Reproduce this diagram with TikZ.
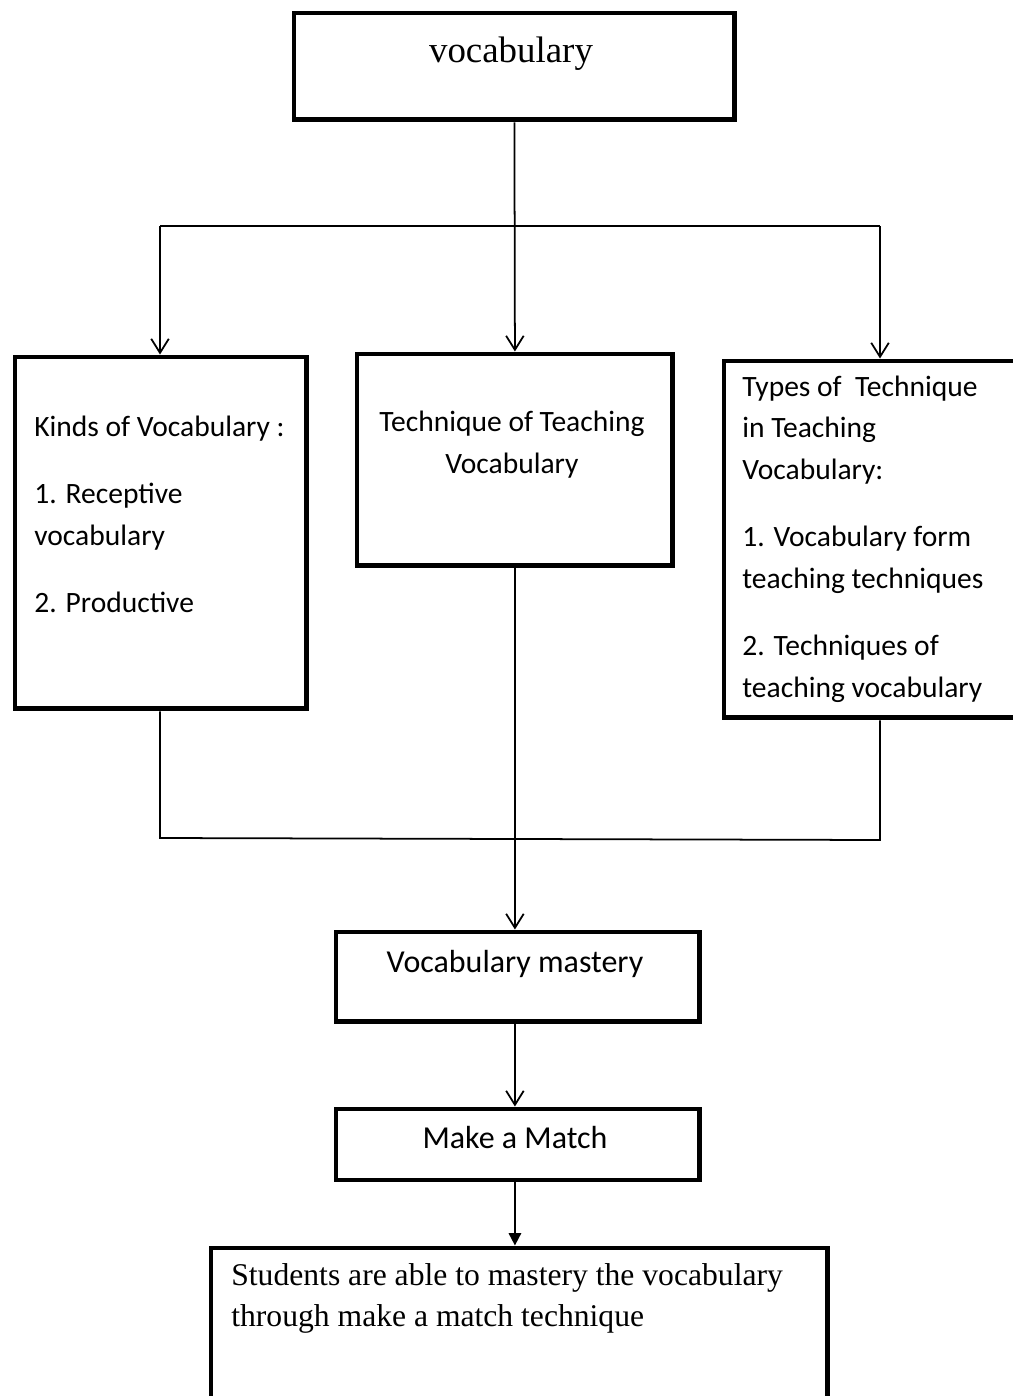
\documentclass[tikz,border=0pt]{standalone}
\usepackage{fontspec}
\setmainfont{Liberation Serif}
\newfontfamily\calibri{Carlito}
\usetikzlibrary{shapes,arrows.meta}
\tikzstyle{block} = [rectangle, draw, line width=2.8pt, inner sep=0pt, anchor=north west]
\tikzstyle{line} = [draw, line width=1pt]
\tikzstyle{arrow} = [line, -{Straight Barb[length=8pt,width=10pt]}]
\tikzstyle{body} = [inner sep=0pt, align=left, font=\calibri\fontsize{16.8}{23.8}\selectfont]

\begin{document}
\begin{tikzpicture}[x=0.02cm, y=-0.02cm]
\useasboundingbox (0,0) rectangle (1012,1396);
% boxes
\node [block, minimum width=8.82cm, minimum height=2.14cm] (vocab) at (291.5,10.5) {};
\node [block, minimum width=5.84cm, minimum height=7.04cm] (kinds) at (12.5,354.5) {};
\node [block, minimum width=6.32cm, minimum height=4.24cm] (tech) at (354.5,351.5) {};
\node [block, minimum width=5.97cm, minimum height=7.14cm] (types) at (721.5,358.5) {};
\node [block, minimum width=7.28cm, minimum height=1.8cm] (mastery) at (333.5,929.5) {};
\node [block, minimum width=7.28cm, minimum height=1.42cm] (match) at (333.5,1106.5) {};
\node [block, minimum width=12.34cm, minimum height=3.09cm] (students) at (208.5,1245.5) {};
% texts (base = last line)
\node [inner sep=0pt, anchor=base, font=\fontsize{21}{25}\selectfont] (vocab-txt) at (511,62) {vocabulary};
\node [body, anchor=base west] (kinds-txt) at (34,612) {Kinds of Vocabulary :\\[0.5cm]
  1. Receptive\\ vocabulary\\[0.5cm] 2. Productive};
\node [body, align=center, anchor=base] (tech-txt) at (512,473) {Technique of Teaching\\ Vocabulary};
\node [body, anchor=base west] (types-txt) at (742,697) {Types of~ Technique\\ in Teaching\\ Vocabulary:\\[0.5cm]
  1. Vocabulary form\\ teaching techniques\\[0.5cm] 2. Techniques of\\ teaching vocabulary};
\node [body, anchor=base, font=\calibri\fontsize{18.2}{22}\selectfont] (mastery-txt) at (515,972) {Vocabulary mastery};
\node [body, anchor=base, font=\calibri\fontsize{18.2}{22}\selectfont] (match-txt) at (515,1148) {Make a Match};
\node [inner sep=0pt, anchor=base west, align=left, font=\fontsize{18}{23.3}\selectfont] (students-txt) at (231,1326)
  {Students are able to mastery the vocabulary\\ through make a match technique};
% connectors
\coordinate (split-l) at (160,226);
\coordinate (split-r) at (880,226);
\coordinate (join-l) at (160,838);
\coordinate (join-r) at (880,840);
\path [arrow] (vocab.south) -- (tech.north);
\path [line] (split-l) -- (split-r);
\path [arrow] (split-l) -- (split-l |- kinds.north);
\path [arrow] (split-r) -- (split-r |- types.north);
\path [line] (kinds.south -| join-l) -- (join-l) -- (join-r) -- (types.south -| join-r);
\path [arrow] (tech.south) -- (tech.south |- mastery.north);
\path [arrow] (tech.south |- mastery.south) -- (tech.south |- match.north);
\path [line, -{Triangle[length=7pt,width=7pt]}] (tech.south |- match.south) -- (tech.south |- students.north);
\end{tikzpicture}
\end{document}
